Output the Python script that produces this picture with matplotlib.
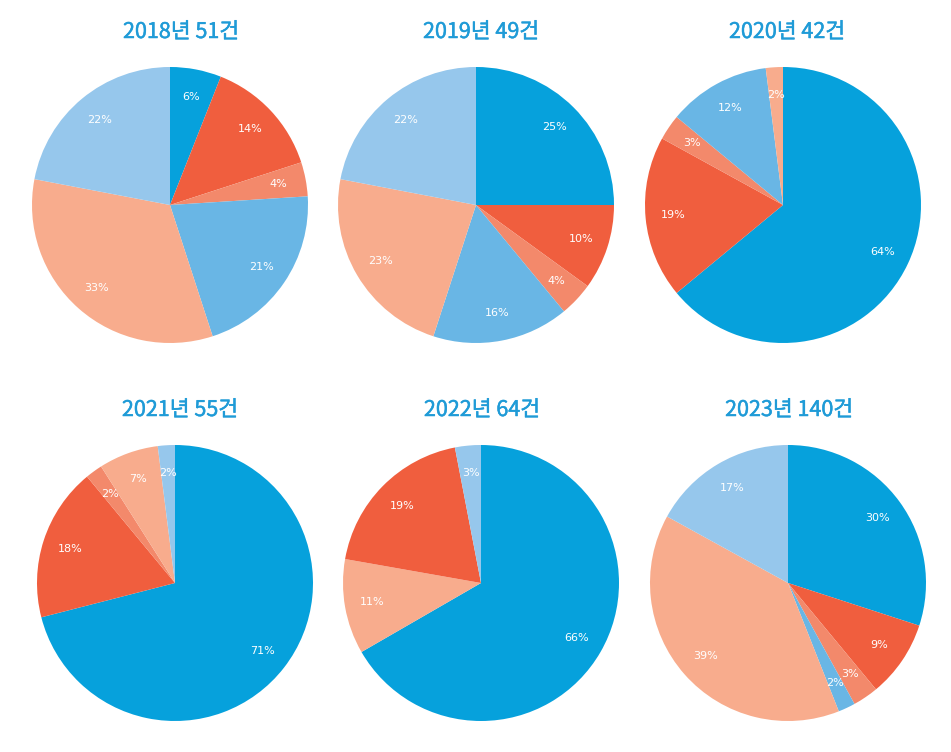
import matplotlib
matplotlib.use('Agg')
import matplotlib.pyplot as plt
import matplotlib.patheffects as pe

plt.rcParams['font.family'] = ['Noto Sans CJK KR', 'DejaVu Sans']

# category colours
colors = {
    'A': '#06a1dc',  # blue
    'B': '#f05e3e',  # red
    'C': '#f3896b',  # salmon
    'D': '#69b6e5',  # light blue
    'E': '#f8ac8d',  # peach
    'F': '#96c7ec',  # pale blue
}

titles = ['2018년 51건', '2019년 49건', '2020년 42건',
          '2021년 55건', '2022년 64건', '2023년 140건']

# slices clockwise from 12 o'clock
cats_2018 = ['A', 'B', 'C', 'D', 'E', 'F']
vals_2018 = [6, 14, 4, 21, 33, 22]
cats_2019 = ['A', 'B', 'C', 'D', 'E', 'F']
vals_2019 = [25, 10, 4, 16, 23, 22]
cats_2020 = ['A', 'B', 'C', 'D', 'E']
vals_2020 = [64, 19, 3, 12, 2]
cats_2021 = ['A', 'B', 'C', 'E', 'F']
vals_2021 = [71, 18, 2, 7, 2]
cats_2022 = ['A', 'E', 'B', 'F']
vals_2022 = [66, 11, 19, 3]
cats_2023 = ['A', 'B', 'C', 'D', 'E', 'F']
vals_2023 = [30, 9, 3, 2, 39, 17]

cats = [cats_2018, cats_2019, cats_2020, cats_2021, cats_2022, cats_2023]
vals = [vals_2018, vals_2019, vals_2020, vals_2021, vals_2022, vals_2023]

W, H = 951, 752
fig = plt.figure(figsize=(W / 100, H / 100), dpi=100)

centers = [(170, 205), (476, 205), (783, 205),
           (175, 583), (481, 583), (788, 583)]
title_pos = [(181, 32), (481, 32), (787, 32),
             (180, 410), (482, 410), (789, 410)]
r = 138
title_color = '#1f9bd7'

for i in range(6):
    cx, cy = centers[i]
    ax = fig.add_axes([(cx - r) / W, (H - cy - r) / H, 2 * r / W, 2 * r / H])
    wedges, texts, autotexts = ax.pie(
        vals[i], colors=[colors[c] for c in cats[i]],
        startangle=90, counterclock=False,
        autopct='%d%%', pctdistance=0.8,
        wedgeprops=dict(linewidth=0),
        textprops=dict(color='white', fontsize=8, family='DejaVu Sans'))
    ax.set_xlim(-1, 1)
    ax.set_ylim(-1, 1)
    ax.set_axis_off()
    tx, ty = title_pos[i]
    fig.text(tx / W, 1 - ty / H, titles[i], ha='center', va='center',
             fontsize=15.5, color=title_color,
             path_effects=[pe.withStroke(linewidth=0.35, foreground=title_color)])

fig.savefig('out.png', dpi=100)
